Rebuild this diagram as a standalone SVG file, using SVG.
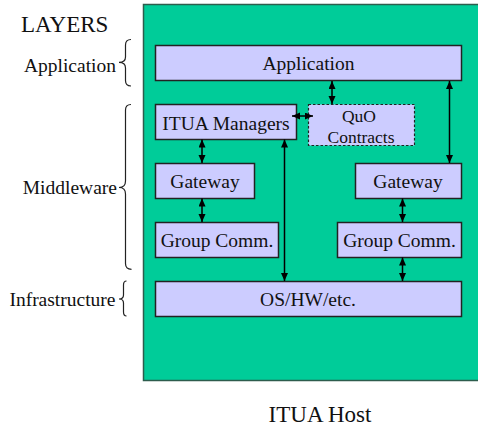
<svg xmlns="http://www.w3.org/2000/svg" width="478" height="427" viewBox="0 0 478 427">
<style>
.box{fill:#ccccff;stroke:#222;stroke-width:1.5}
.dash{fill:#ccccff;stroke:#222;stroke-width:1.2;stroke-dasharray:2.5,2}
text{font-family:"Liberation Serif","Times New Roman",serif;fill:#111}
.t{font-size:19.5px;text-anchor:middle}
.q{font-size:17.5px;text-anchor:middle}
.lab{font-size:19.5px;text-anchor:end}
.br{fill:none;stroke:#222;stroke-width:1.2}
.c{stroke:#000;stroke-width:1.5;fill:none;marker-start:url(#ah);marker-end:url(#ah)}
</style>
<defs>
<marker id="ah" markerUnits="userSpaceOnUse" markerWidth="9" markerHeight="8" refX="8" refY="3.5" orient="auto-start-reverse">
<path d="M0,0 L8,3.5 L0,7 z" fill="#000"/>
</marker>
</defs>
<rect x="143.5" y="4.5" width="340" height="376" fill="#00cc99" stroke="#2d5d4d" stroke-width="1.5"/>
<text x="21" y="31.5" style="font-size:23px">LAYERS</text>
<g id="layer-labels">
<text class="lab" x="116" y="72">Application</text>
<path class="br" d="M131,39.5 Q125.5,39.5 125.5,45 L125.5,57 Q125.5,62.3 119,62.3 Q125.5,62.3 125.5,68 L125.5,80.5 Q125.5,86 131,86"/>
<text class="lab" x="117" y="194">Middleware</text>
<path class="br" d="M131,104.5 Q125.5,104.5 125.5,110 L125.5,181 Q125.5,187.5 119,187.5 Q125.5,187.5 125.5,194 L125.5,263.5 Q125.5,269.3 131.5,269.3"/>
<text class="lab" x="115.5" y="306">Infrastructure</text>
<path class="br" d="M126.5,281 Q123.5,281 123.5,285 L123.5,295 Q123.5,299 119,299 Q123.5,299 123.5,303 L123.5,312 Q123.5,316 126.5,316"/>
</g>
<g id="application"><rect class="box" x="155.5" y="45.5" width="306" height="35"/><text class="t" x="308.5" y="69.5">Application</text></g>
<g id="itua-managers"><rect class="box" x="155.5" y="104.5" width="141" height="35"/><text class="t" x="226" y="129.5">ITUA Managers</text></g>
<g id="quo-contracts"><rect class="dash" x="308.5" y="104.5" width="106" height="41"/><text class="q" x="359" y="122">QuO</text><text class="q" x="361" y="142.5">Contracts</text></g>
<g id="gateway-left"><rect class="box" x="155.5" y="163.5" width="99" height="35"/><text class="t" x="205" y="188">Gateway</text></g>
<g id="gateway-right"><rect class="box" x="355.5" y="163.5" width="106" height="35"/><text class="t" x="408" y="188">Gateway</text></g>
<g id="group-comm-left"><rect class="box" x="155.5" y="222.5" width="123" height="35"/><text class="t" x="217" y="247">Group Comm.</text></g>
<g id="group-comm-right"><rect class="box" x="337.5" y="222.5" width="124" height="35"/><text class="t" x="399.5" y="247">Group Comm.</text></g>
<g id="os-hw"><rect class="box" x="155.5" y="281.5" width="306" height="35"/><text class="t" x="308" y="306">OS/HW/etc.</text></g>
<g id="connectors">
<line class="c" x1="332" y1="81" x2="332" y2="104"/>
<line class="c" x1="449.5" y1="81" x2="449.5" y2="163"/>
<line class="c" x1="292" y1="116" x2="313" y2="116"/>
<line class="c" x1="202" y1="139.5" x2="202" y2="163"/>
<line class="c" x1="202" y1="198.5" x2="202" y2="222"/>
<line class="c" x1="284.5" y1="139.5" x2="284.5" y2="281"/>
<line class="c" x1="402.5" y1="198.5" x2="402.5" y2="222"/>
<line class="c" x1="402.5" y1="257.5" x2="402.5" y2="281"/>
</g>
<text x="320" y="422" style="font-size:23px;text-anchor:middle">ITUA Host</text>
</svg>
